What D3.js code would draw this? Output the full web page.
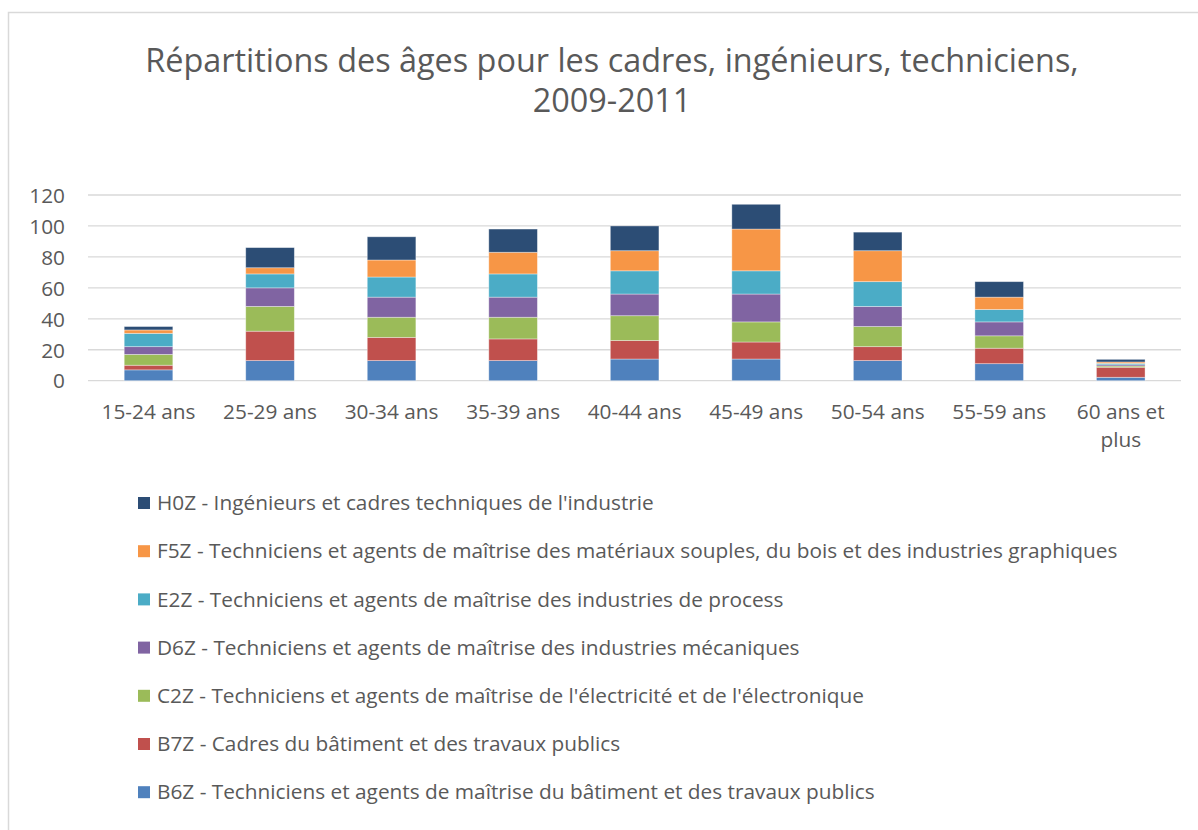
<!DOCTYPE html>
<html>
<head>
<meta charset="utf-8">
<script src="https://cdn.jsdelivr.net/npm/d3@7"></script>
<style>
  body { margin: 0; background: #fff; }
  svg text { font-family: "Open Sans", "Liberation Sans", sans-serif; fill: #595959; }
</style>
</head>
<body>
<svg id="chart" width="1198" height="830"></svg>
<script>
// age groups on the x axis
var categories = ["15-24 ans", "25-29 ans", "30-34 ans", "35-39 ans", "40-44 ans",
                  "45-49 ans", "50-54 ans", "55-59 ans", "60 ans et plus"];

// one array per job family (stacked bottom to top)
var b6z = [7, 13, 13, 13, 14, 14, 13, 11, 2.2];
var b7z = [3, 19, 15, 14, 12, 11, 9, 10, 6.5];
var c2z = [7, 16, 13, 14, 16, 13, 13, 8, 0.8];
var d6z = [5, 12, 13, 13, 14, 18, 13, 9, 0.8];
var e2z = [8.6, 9, 13, 15, 15, 15, 16, 8, 0.9];
var f5z = [2.2, 4, 11, 14, 13, 27, 20, 8, 0.9];
var h0z = [2.2, 13, 15, 15, 16, 16, 12, 10, 1.7];

var seriesNames = [
  "B6Z - Techniciens et agents de maîtrise du bâtiment et des travaux publics",
  "B7Z - Cadres du bâtiment et des travaux publics",
  "C2Z - Techniciens et agents de maîtrise de l'électricité et de l'électronique",
  "D6Z - Techniciens et agents de maîtrise des industries mécaniques",
  "E2Z - Techniciens et agents de maîtrise des industries de process",
  "F5Z - Techniciens et agents de maîtrise des matériaux souples, du bois et des industries graphiques",
  "H0Z - Ingénieurs et cadres techniques de l'industrie"
];
var seriesValues = [b6z, b7z, c2z, d6z, e2z, f5z, h0z];
var colors = ["#4F81BD", "#C0504D", "#9BBB59", "#8064A2", "#4BACC6", "#F79646", "#2C4D75"];

var yTicks = [0, 20, 40, 60, 80, 100, 120];
var titleLines = ["Répartitions des âges pour les cadres, ingénieurs, techniciens,", "2009-2011"];

var svg = d3.select("#chart");

// chart frame (light grey, runs past the right/bottom edge)
svg.append("rect")
  .attr("x", 8.5).attr("y", 12.5)
  .attr("width", 1200).attr("height", 830)
  .attr("fill", "#fff").attr("stroke", "#D9D9D9").attr("stroke-width", 1.5);

// title
svg.append("g").selectAll("text")
  .data(titleLines).enter().append("text")
  .attr("x", 612).attr("y", (d, i) => 72 + i * 40)
  .attr("text-anchor", "middle")
  .style("font-size", "32.4px")
  .text(d => d);

var x = d3.scaleBand().domain(categories).range([87.75, 1181.5])
  .paddingInner(0.6).paddingOuter(0.3);
var y = d3.scaleLinear().domain([0, 120]).range([380.7, 195]);

// gridlines
svg.append("g").selectAll("line")
  .data(yTicks).enter().append("line")
  .attr("x1", 88).attr("x2", 1181)
  .attr("y1", d => y(d)).attr("y2", d => y(d))
  .attr("stroke", "#D9D9D9").attr("stroke-width", 1.3);

// y axis labels
var yAxis = d3.axisLeft(y).tickValues(yTicks).tickSize(0).tickPadding(0);
var gy = svg.append("g").attr("transform", "translate(65,0)").call(yAxis);
gy.select(".domain").remove();
gy.selectAll("text").style("font-size", "20.8px").attr("dy", "0.35em");

// stacked bars
var table = categories.map((c, i) => {
  var row = { cat: c };
  seriesValues.forEach((s, k) => { row["s" + k] = s[i]; });
  return row;
});
var stack = d3.stack().keys(seriesValues.map((s, k) => "s" + k))(table);

svg.append("g").selectAll("g")
  .data(stack).enter().append("g")
  .attr("fill", (d, k) => colors[k])
  .selectAll("rect")
  .data(d => d).enter().append("rect")
  .attr("x", d => x(d.data.cat))
  .attr("width", x.bandwidth())
  .attr("y", d => y(d[1]))
  .attr("height", d => y(d[0]) - y(d[1]))
  .attr("stroke", "#ffffff").attr("stroke-opacity", 0.45).attr("stroke-width", 0.8);

// x axis labels (wrapped to the band step)
var xAxis = d3.axisBottom(x).tickSize(0).tickPadding(0);
var gx = svg.append("g").attr("transform", "translate(0,412)").call(xAxis);
gx.select(".domain").remove();
gx.selectAll("text").style("font-size", "20.8px").attr("dy", "0.35em")
  .each(function(d) {
    var t = d3.select(this);
    var words = d.split(" ");
    if (words.length > 3) {
      t.text(null);
      t.append("tspan").attr("x", 0).attr("dy", "0.35em").text(words.slice(0, 3).join(" "));
      t.append("tspan").attr("x", 0).attr("dy", "1.35em").text(words.slice(3).join(" "));
    }
  });

// legend (top entry is last series)
var legendOrder = d3.range(seriesNames.length).reverse();
var lg = svg.append("g").selectAll("g")
  .data(legendOrder).enter().append("g")
  .attr("transform", (k, i) => "translate(138," + (503 + i * 48.2) + ")");
lg.append("rect")
  .attr("x", 0).attr("y", -6).attr("width", 12).attr("height", 12)
  .attr("fill", k => colors[k]);
lg.append("text")
  .attr("x", 19).attr("dy", "0.35em")
  .style("font-size", "20.8px")
  .text(k => seriesNames[k]);
</script>
</body>
</html>
